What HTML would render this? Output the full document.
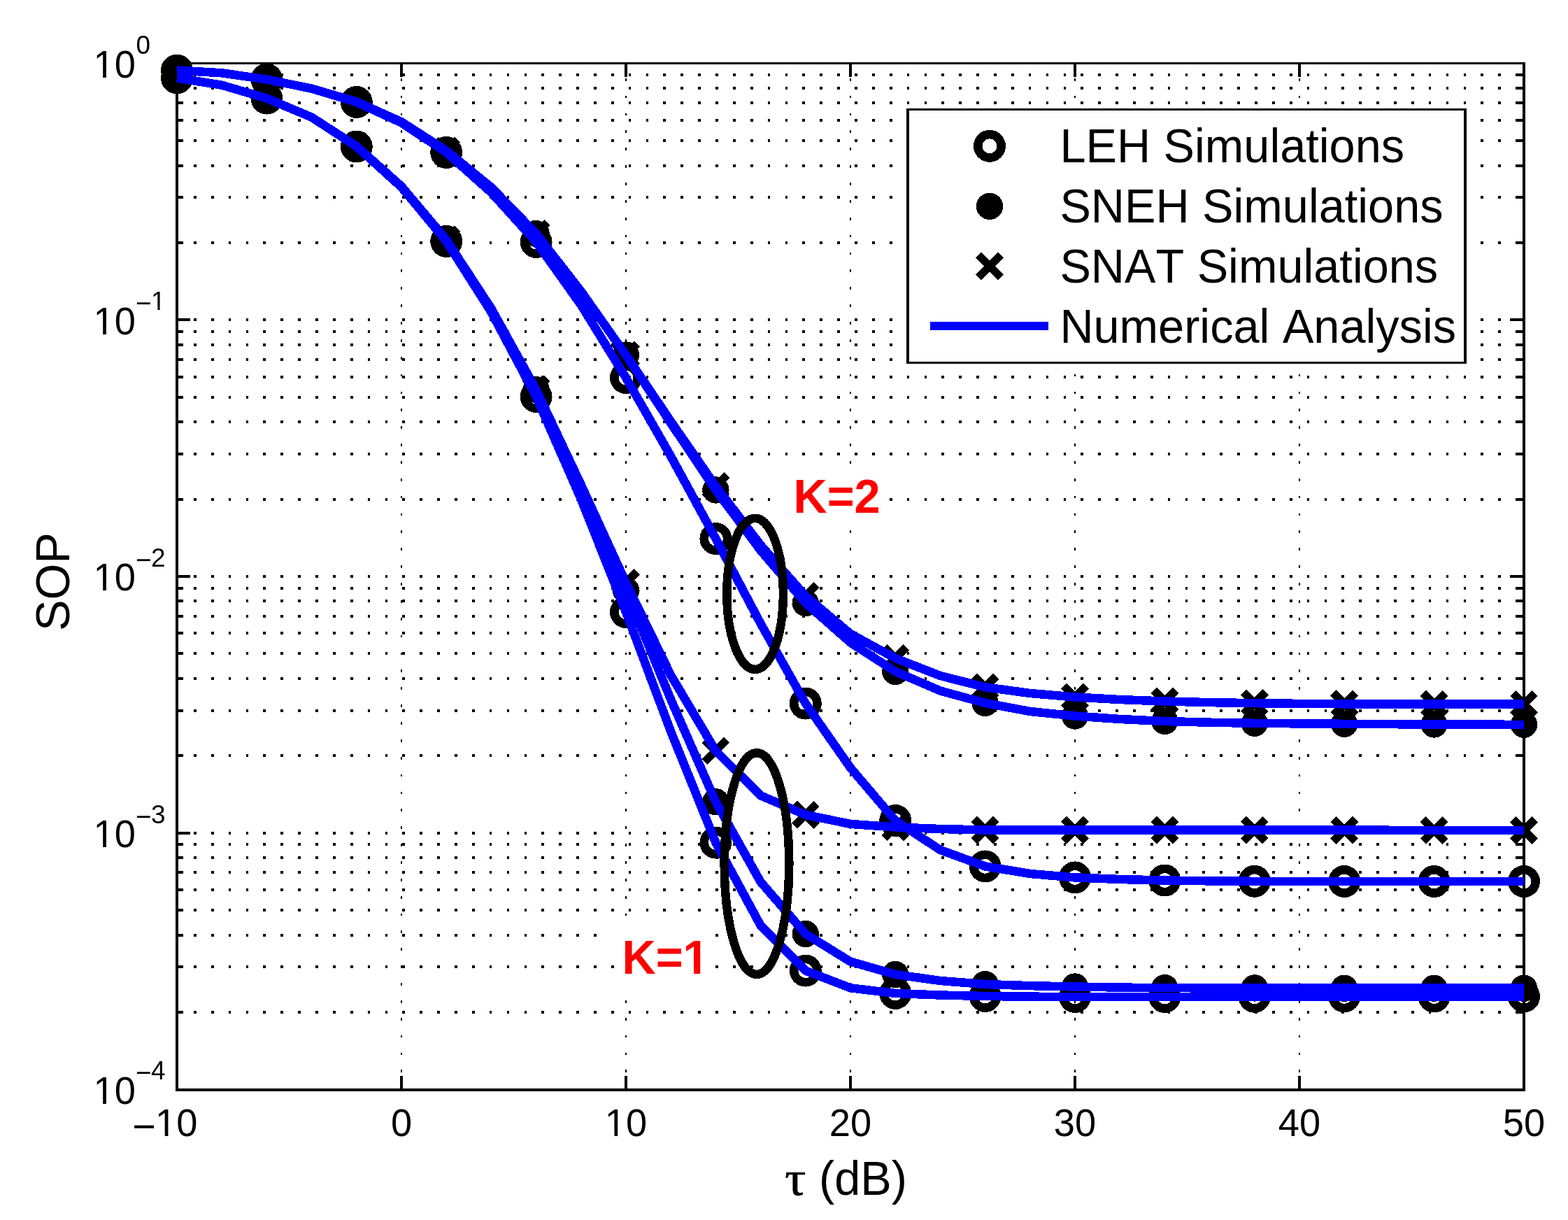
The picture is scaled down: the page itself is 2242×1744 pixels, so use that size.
<!DOCTYPE html>
<html lang="en">
<head>
<meta charset="utf-8">
<title>SOP versus &#964; (dB)</title>
<style>
html,body{margin:0;padding:0;background:#fff;}
body{width:2242px;height:1744px;overflow:hidden;}
svg{display:block;}
text{white-space:pre;font-kerning:none;}
</style>
</head>
<body>
<svg width="2242" height="1744" viewBox="0 0 2242 1744">
<rect x="0" y="0" width="2242" height="1744" fill="#fff"/>
<defs><clipPath id="ax"><rect x="252" y="90.6" width="1927" height="1467.4"/></clipPath></defs>
<path d="M277 457.27H2171M277 346.89H2171M277 282.33H2171M277 236.51H2171M277 200.98H2171M277 171.95H2171M277 147.4H2171M277 126.13H2171M277 107.38H2171M277 823.95H2171M277 713.57H2171M277 649H2171M277 603.19H2171M277 567.66H2171M277 538.62H2171M277 514.07H2171M277 492.81H2171M277 474.05H2171M277 1190.62H2171M277 1080.24H2171M277 1015.68H2171M277 969.86H2171M277 934.33H2171M277 905.3H2171M277 880.75H2171M277 859.48H2171M277 840.73H2171M277 1446.92H2171M277 1382.35H2171M277 1336.54H2171M277 1301.01H2171M277 1271.97H2171M277 1247.42H2171M277 1226.16H2171M277 1207.4H2171" stroke="#000" stroke-width="4" stroke-dasharray="3.7 21.17" fill="none" shape-rendering="crispEdges"/>
<path d="M574 111.86V1534M895 111.86V1534M1216 111.86V1534M1537 111.86V1534M1858 111.86V1534" stroke="#000" stroke-width="2" stroke-dasharray="3.75 21.12" fill="none" shape-rendering="crispEdges"/>
<g fill="#000" shape-rendering="crispEdges">
<rect x="251" y="89" width="4" height="1471"/>
<rect x="2177" y="89" width="4" height="1471"/>
<rect x="251" y="89" width="1930" height="3"/>
<rect x="251" y="1556" width="1930" height="4"/>
<rect x="572" y="1538" width="4" height="20"/>
<rect x="572" y="90" width="4" height="19.5"/>
<rect x="893" y="1538" width="4" height="20"/>
<rect x="893" y="90" width="4" height="19.5"/>
<rect x="1214" y="1538" width="4" height="20"/>
<rect x="1214" y="90" width="4" height="19.5"/>
<rect x="1535" y="1538" width="4" height="20"/>
<rect x="1535" y="90" width="4" height="19.5"/>
<rect x="1856" y="1538" width="4" height="20"/>
<rect x="1856" y="90" width="4" height="19.5"/>
<rect x="253" y="455" width="19" height="4"/>
<rect x="2159" y="455" width="19.5" height="4"/>
<rect x="253" y="345" width="9" height="4"/>
<rect x="2168.9" y="345" width="9.6" height="4"/>
<rect x="253" y="280" width="9" height="4"/>
<rect x="2168.9" y="280" width="9.6" height="4"/>
<rect x="253" y="235" width="9" height="4"/>
<rect x="2168.9" y="235" width="9.6" height="4"/>
<rect x="253" y="199" width="9" height="4"/>
<rect x="2168.9" y="199" width="9.6" height="4"/>
<rect x="253" y="170" width="9" height="4"/>
<rect x="2168.9" y="170" width="9.6" height="4"/>
<rect x="253" y="145" width="9" height="4"/>
<rect x="2168.9" y="145" width="9.6" height="4"/>
<rect x="253" y="124" width="9" height="4"/>
<rect x="2168.9" y="124" width="9.6" height="4"/>
<rect x="253" y="105" width="9" height="4"/>
<rect x="2168.9" y="105" width="9.6" height="4"/>
<rect x="253" y="822" width="19" height="4"/>
<rect x="2159" y="822" width="19.5" height="4"/>
<rect x="253" y="712" width="9" height="4"/>
<rect x="2168.9" y="712" width="9.6" height="4"/>
<rect x="253" y="647" width="9" height="4"/>
<rect x="2168.9" y="647" width="9.6" height="4"/>
<rect x="253" y="601" width="9" height="4"/>
<rect x="2168.9" y="601" width="9.6" height="4"/>
<rect x="253" y="566" width="9" height="4"/>
<rect x="2168.9" y="566" width="9.6" height="4"/>
<rect x="253" y="537" width="9" height="4"/>
<rect x="2168.9" y="537" width="9.6" height="4"/>
<rect x="253" y="512" width="9" height="4"/>
<rect x="2168.9" y="512" width="9.6" height="4"/>
<rect x="253" y="491" width="9" height="4"/>
<rect x="2168.9" y="491" width="9.6" height="4"/>
<rect x="253" y="472" width="9" height="4"/>
<rect x="2168.9" y="472" width="9.6" height="4"/>
<rect x="253" y="1189" width="19" height="4"/>
<rect x="2159" y="1189" width="19.5" height="4"/>
<rect x="253" y="1078" width="9" height="4"/>
<rect x="2168.9" y="1078" width="9.6" height="4"/>
<rect x="253" y="1014" width="9" height="4"/>
<rect x="2168.9" y="1014" width="9.6" height="4"/>
<rect x="253" y="968" width="9" height="4"/>
<rect x="2168.9" y="968" width="9.6" height="4"/>
<rect x="253" y="932" width="9" height="4"/>
<rect x="2168.9" y="932" width="9.6" height="4"/>
<rect x="253" y="903" width="9" height="4"/>
<rect x="2168.9" y="903" width="9.6" height="4"/>
<rect x="253" y="879" width="9" height="4"/>
<rect x="2168.9" y="879" width="9.6" height="4"/>
<rect x="253" y="857" width="9" height="4"/>
<rect x="2168.9" y="857" width="9.6" height="4"/>
<rect x="253" y="839" width="9" height="4"/>
<rect x="2168.9" y="839" width="9.6" height="4"/>
<rect x="253" y="1445" width="9" height="4"/>
<rect x="2168.9" y="1445" width="9.6" height="4"/>
<rect x="253" y="1380" width="9" height="4"/>
<rect x="2168.9" y="1380" width="9.6" height="4"/>
<rect x="253" y="1335" width="9" height="4"/>
<rect x="2168.9" y="1335" width="9.6" height="4"/>
<rect x="253" y="1299" width="9" height="4"/>
<rect x="2168.9" y="1299" width="9.6" height="4"/>
<rect x="253" y="1270" width="9" height="4"/>
<rect x="2168.9" y="1270" width="9.6" height="4"/>
<rect x="253" y="1245" width="9" height="4"/>
<rect x="2168.9" y="1245" width="9.6" height="4"/>
<rect x="253" y="1224" width="9" height="4"/>
<rect x="2168.9" y="1224" width="9.6" height="4"/>
<rect x="253" y="1205" width="9" height="4"/>
<rect x="2168.9" y="1205" width="9.6" height="4"/>
</g>
<g shape-rendering="crispEdges">
<circle cx="253" cy="111.5" r="16.7" fill="none" stroke="#000" stroke-width="12.5"/>
<circle cx="381.4" cy="140.6" r="16.7" fill="none" stroke="#000" stroke-width="12.5"/>
<circle cx="509.8" cy="209.5" r="16.7" fill="none" stroke="#000" stroke-width="12.5"/>
<circle cx="638.2" cy="345" r="16.7" fill="none" stroke="#000" stroke-width="12.5"/>
<circle cx="766.6" cy="567" r="16.7" fill="none" stroke="#000" stroke-width="12.5"/>
<circle cx="895" cy="875" r="16.7" fill="none" stroke="#000" stroke-width="12.5"/>
<circle cx="1023.4" cy="1204.5" r="16.7" fill="none" stroke="#000" stroke-width="12.5"/>
<circle cx="1151.8" cy="1387.6" r="16.7" fill="none" stroke="#000" stroke-width="12.5"/>
<circle cx="1280.2" cy="1420" r="16.7" fill="none" stroke="#000" stroke-width="12.5"/>
<circle cx="1408.6" cy="1424" r="16.7" fill="none" stroke="#000" stroke-width="12.5"/>
<circle cx="1537" cy="1425" r="16.7" fill="none" stroke="#000" stroke-width="12.5"/>
<circle cx="1665.4" cy="1425" r="16.7" fill="none" stroke="#000" stroke-width="12.5"/>
<circle cx="1793.8" cy="1424.8" r="16.7" fill="none" stroke="#000" stroke-width="12.5"/>
<circle cx="1922.2" cy="1424.5" r="16.7" fill="none" stroke="#000" stroke-width="12.5"/>
<circle cx="2050.6" cy="1424.5" r="16.7" fill="none" stroke="#000" stroke-width="12.5"/>
<circle cx="2179" cy="1424.5" r="16.7" fill="none" stroke="#000" stroke-width="12.5"/>
<circle cx="253" cy="100.5" r="16.7" fill="none" stroke="#000" stroke-width="12.5"/>
<circle cx="381.4" cy="113.6" r="16.7" fill="none" stroke="#000" stroke-width="12.5"/>
<circle cx="509.8" cy="146" r="16.7" fill="none" stroke="#000" stroke-width="12.5"/>
<circle cx="638.2" cy="218" r="16.7" fill="none" stroke="#000" stroke-width="12.5"/>
<circle cx="766.6" cy="346" r="16.7" fill="none" stroke="#000" stroke-width="12.5"/>
<circle cx="895" cy="540" r="16.7" fill="none" stroke="#000" stroke-width="12.5"/>
<circle cx="1023.4" cy="770" r="16.7" fill="none" stroke="#000" stroke-width="12.5"/>
<circle cx="1151.8" cy="1005.6" r="16.7" fill="none" stroke="#000" stroke-width="12.5"/>
<circle cx="1280.2" cy="1173" r="16.7" fill="none" stroke="#000" stroke-width="12.5"/>
<circle cx="1408.6" cy="1238.4" r="16.7" fill="none" stroke="#000" stroke-width="12.5"/>
<circle cx="1537" cy="1254.4" r="16.7" fill="none" stroke="#000" stroke-width="12.5"/>
<circle cx="1665.4" cy="1258.5" r="16.7" fill="none" stroke="#000" stroke-width="12.5"/>
<circle cx="1793.8" cy="1259.8" r="16.7" fill="none" stroke="#000" stroke-width="12.5"/>
<circle cx="1922.2" cy="1260" r="16.7" fill="none" stroke="#000" stroke-width="12.5"/>
<circle cx="2050.6" cy="1260" r="16.7" fill="none" stroke="#000" stroke-width="12.5"/>
<circle cx="2179" cy="1260" r="16.7" fill="none" stroke="#000" stroke-width="12.5"/>
<circle cx="253" cy="111.5" r="19.2" fill="#000"/>
<circle cx="381.4" cy="140.6" r="19.2" fill="#000"/>
<circle cx="509.8" cy="209" r="19.2" fill="#000"/>
<circle cx="638.2" cy="342.7" r="19.2" fill="#000"/>
<circle cx="766.6" cy="557" r="19.2" fill="#000"/>
<circle cx="895" cy="844" r="19.2" fill="#000"/>
<circle cx="1023.4" cy="1146.3" r="19.2" fill="#000"/>
<circle cx="1151.8" cy="1335" r="19.2" fill="#000"/>
<circle cx="1280.2" cy="1393" r="19.2" fill="#000"/>
<circle cx="1408.6" cy="1407" r="19.2" fill="#000"/>
<circle cx="1537" cy="1410.5" r="19.2" fill="#000"/>
<circle cx="1665.4" cy="1412.2" r="19.2" fill="#000"/>
<circle cx="1793.8" cy="1412.4" r="19.2" fill="#000"/>
<circle cx="1922.2" cy="1412.7" r="19.2" fill="#000"/>
<circle cx="2050.6" cy="1412.7" r="19.2" fill="#000"/>
<circle cx="2179" cy="1412.7" r="19.2" fill="#000"/>
<circle cx="253" cy="100.5" r="19.2" fill="#000"/>
<circle cx="381.4" cy="113.6" r="19.2" fill="#000"/>
<circle cx="509.8" cy="145.5" r="19.2" fill="#000"/>
<circle cx="638.2" cy="215.5" r="19.2" fill="#000"/>
<circle cx="766.6" cy="334" r="19.2" fill="#000"/>
<circle cx="895" cy="507.5" r="19.2" fill="#000"/>
<circle cx="1023.4" cy="700.5" r="19.2" fill="#000"/>
<circle cx="1151.8" cy="862" r="19.2" fill="#000"/>
<circle cx="1280.2" cy="960" r="19.2" fill="#000"/>
<circle cx="1408.6" cy="1005" r="19.2" fill="#000"/>
<circle cx="1537" cy="1023.5" r="19.2" fill="#000"/>
<circle cx="1665.4" cy="1031" r="19.2" fill="#000"/>
<circle cx="1793.8" cy="1033.8" r="19.2" fill="#000"/>
<circle cx="1922.2" cy="1034.8" r="19.2" fill="#000"/>
<circle cx="2050.6" cy="1035.5" r="19.2" fill="#000"/>
<circle cx="2179" cy="1035.8" r="19.2" fill="#000"/>
<path d="M237.2 95.7L268.8 127.3M237.2 127.3L268.8 95.7" stroke="#000" stroke-width="11.6" fill="none"/>
<path d="M365.6 124.8L397.2 156.4M365.6 156.4L397.2 124.8" stroke="#000" stroke-width="11.6" fill="none"/>
<path d="M494 193.2L525.6 224.8M494 224.8L525.6 193.2" stroke="#000" stroke-width="11.6" fill="none"/>
<path d="M622.4 326.9L654 358.5M622.4 358.5L654 326.9" stroke="#000" stroke-width="11.6" fill="none"/>
<path d="M750.8 541.2L782.4 572.8M750.8 572.8L782.4 541.2" stroke="#000" stroke-width="11.6" fill="none"/>
<path d="M879.2 817.2L910.8 848.8M879.2 848.8L910.8 817.2" stroke="#000" stroke-width="11.6" fill="none"/>
<path d="M1007.6 1057.6L1039.2 1089.2M1007.6 1089.2L1039.2 1057.6" stroke="#000" stroke-width="11.6" fill="none"/>
<path d="M1136 1149L1167.6 1180.6M1136 1180.6L1167.6 1149" stroke="#000" stroke-width="11.6" fill="none"/>
<path d="M1264.4 1166.7L1296 1198.3M1264.4 1198.3L1296 1166.7" stroke="#000" stroke-width="11.6" fill="none"/>
<path d="M1392.8 1170.7L1424.4 1202.3M1392.8 1202.3L1424.4 1170.7" stroke="#000" stroke-width="11.6" fill="none"/>
<path d="M1521.2 1170.7L1552.8 1202.3M1521.2 1202.3L1552.8 1170.7" stroke="#000" stroke-width="11.6" fill="none"/>
<path d="M1649.6 1170.72L1681.2 1202.32M1649.6 1202.32L1681.2 1170.72" stroke="#000" stroke-width="11.6" fill="none"/>
<path d="M1778 1170.79L1809.6 1202.39M1778 1202.39L1809.6 1170.79" stroke="#000" stroke-width="11.6" fill="none"/>
<path d="M1906.4 1170.89L1938 1202.49M1906.4 1202.49L1938 1170.89" stroke="#000" stroke-width="11.6" fill="none"/>
<path d="M2034.8 1171.03L2066.4 1202.63M2034.8 1202.63L2066.4 1171.03" stroke="#000" stroke-width="11.6" fill="none"/>
<path d="M2163.2 1171.2L2194.8 1202.8M2163.2 1202.8L2194.8 1171.2" stroke="#000" stroke-width="11.6" fill="none"/>
<path d="M237.2 84.7L268.8 116.3M237.2 116.3L268.8 84.7" stroke="#000" stroke-width="11.6" fill="none"/>
<path d="M365.6 97.8L397.2 129.4M365.6 129.4L397.2 97.8" stroke="#000" stroke-width="11.6" fill="none"/>
<path d="M494 129.7L525.6 161.3M494 161.3L525.6 129.7" stroke="#000" stroke-width="11.6" fill="none"/>
<path d="M622.4 199.7L654 231.3M622.4 231.3L654 199.7" stroke="#000" stroke-width="11.6" fill="none"/>
<path d="M750.8 318.2L782.4 349.8M750.8 349.8L782.4 318.2" stroke="#000" stroke-width="11.6" fill="none"/>
<path d="M879.2 491.7L910.8 523.3M879.2 523.3L910.8 491.7" stroke="#000" stroke-width="11.6" fill="none"/>
<path d="M1007.6 679.2L1039.2 710.8M1007.6 710.8L1039.2 679.2" stroke="#000" stroke-width="11.6" fill="none"/>
<path d="M1136 836.2L1167.6 867.8M1136 867.8L1167.6 836.2" stroke="#000" stroke-width="11.6" fill="none"/>
<path d="M1264.4 925.2L1296 956.8M1264.4 956.8L1296 925.2" stroke="#000" stroke-width="11.6" fill="none"/>
<path d="M1392.8 966.5L1424.4 998.1M1392.8 998.1L1424.4 966.5" stroke="#000" stroke-width="11.6" fill="none"/>
<path d="M1521.2 980.7L1552.8 1012.3M1521.2 1012.3L1552.8 980.7" stroke="#000" stroke-width="11.6" fill="none"/>
<path d="M1649.6 986.7L1681.2 1018.3M1649.6 1018.3L1681.2 986.7" stroke="#000" stroke-width="11.6" fill="none"/>
<path d="M1778 989.4L1809.6 1021M1778 1021L1809.6 989.4" stroke="#000" stroke-width="11.6" fill="none"/>
<path d="M1906.4 990.5L1938 1022.1M1906.4 1022.1L1938 990.5" stroke="#000" stroke-width="11.6" fill="none"/>
<path d="M2034.8 990.9L2066.4 1022.5M2034.8 1022.5L2066.4 990.9" stroke="#000" stroke-width="11.6" fill="none"/>
<path d="M2163.2 990.9L2194.8 1022.5M2163.2 1022.5L2194.8 990.9" stroke="#000" stroke-width="11.6" fill="none"/>
</g>
<g clip-path="url(#ax)" fill="none" stroke="#0000ff" stroke-width="12.5" stroke-linejoin="round" shape-rendering="crispEdges">
<polyline points="253,111.5 317.2,121.7 381.4,140.6 445.6,167.6 509.8,209.5 574,267.5 638.2,345 702.4,446.12 766.6,567 830.8,713.45 895,875 959.2,1045.7 1023.4,1204.5 1087.6,1323 1151.8,1387.6 1216,1412.3 1280.2,1420 1344.4,1422.5 1408.6,1424 1472.8,1424.7 1537,1425 1601.2,1425 1665.4,1425 1729.6,1424.93 1793.8,1424.8 1858,1424.62 1922.2,1424.5 1986.4,1424.5 2050.6,1424.5 2114.8,1424.5 2179,1424.5"/>
<polyline points="253,111.5 317.2,121.7 381.4,140.6 445.6,167.6 509.8,209 574,266.4 638.2,342.7 702.4,441.05 766.6,557 830.8,694.37 895,844 959.2,999.89 1023.4,1146.3 1087.6,1260.7 1151.8,1335 1216,1374.7 1280.2,1393 1344.4,1402 1408.6,1407 1472.8,1409.15 1537,1410.5 1601.2,1411.59 1665.4,1412.2 1729.6,1412.31 1793.8,1412.4 1858,1412.58 1922.2,1412.7 1986.4,1412.7 2050.6,1412.7 2114.8,1412.7 2179,1412.7"/>
<polyline points="253,111.5 317.2,121.7 381.4,140.6 445.6,167.6 509.8,209 574,266.4 638.2,342.7 702.4,441.57 766.6,557 830.8,693.04 895,833 959.2,965.17 1023.4,1073.4 1087.6,1137.2 1151.8,1164.8 1216,1177.9 1280.2,1182.5 1344.4,1185 1408.6,1186.5 1472.8,1186.5 1537,1186.5 1601.2,1186.51 1665.4,1186.52 1729.6,1186.55 1793.8,1186.59 1858,1186.64 1922.2,1186.69 1986.4,1186.76 2050.6,1186.83 2114.8,1186.91 2179,1187"/>
<polyline points="253,100.5 317.2,104.3 381.4,113.6 445.6,126.6 509.8,146 574,175.5 638.2,218 702.4,275.21 766.6,346 830.8,435.97 895,540 959.2,652.21 1023.4,770 1087.6,891.42 1151.8,1005.6 1216,1097.6 1280.2,1173 1344.4,1215 1408.6,1238.4 1472.8,1249 1537,1254.4 1601.2,1256.99 1665.4,1258.5 1729.6,1259.35 1793.8,1259.8 1858,1259.94 1922.2,1260 1986.4,1260 2050.6,1260 2114.8,1260 2179,1260"/>
<polyline points="253,100.5 317.2,104.3 381.4,113.6 445.6,126.6 509.8,145.5 574,174.2 638.2,215.5 702.4,267.8 766.6,334 830.8,416.41 895,507.5 959.2,604.86 1023.4,700.5 1087.6,786.93 1151.8,862 1216,918.5 1280.2,960 1344.4,987.5 1408.6,1005 1472.8,1017 1537,1023.5 1601.2,1027.97 1665.4,1031 1729.6,1032.73 1793.8,1033.8 1858,1034.38 1922.2,1034.8 1986.4,1035.2 2050.6,1035.5 2114.8,1035.69 2179,1035.8"/>
<polyline points="253,100.5 317.2,104.3 381.4,113.6 445.6,126.6 509.8,145.5 574,174.2 638.2,215.5 702.4,267.8 766.6,334 830.8,416.72 895,507.5 959.2,602.42 1023.4,695 1087.6,779.19 1151.8,852 1216,906 1280.2,941 1344.4,966 1408.6,982.3 1472.8,991 1537,996.5 1601.2,1000.04 1665.4,1002.5 1729.6,1004.12 1793.8,1005.2 1858,1005.87 1922.2,1006.3 1986.4,1006.57 2050.6,1006.7 2114.8,1006.7 2179,1006.7"/>
</g>
<g shape-rendering="crispEdges"><rect x="1296" y="155" width="801" height="365" fill="#000"/><rect x="1300" y="158" width="793" height="359" fill="#fff"/></g>
<g shape-rendering="crispEdges">
<circle cx="1415" cy="208.8" r="16.7" fill="none" stroke="#000" stroke-width="12.5"/>
<circle cx="1415" cy="294.9" r="19.2" fill="#000"/>
<path d="M1399.2 364.8L1430.8 396.4M1399.2 396.4L1430.8 364.8" stroke="#000" stroke-width="11.6" fill="none"/>
<line x1="1330" y1="465.7" x2="1499.2" y2="465.7" stroke="#0000ff" stroke-width="12"/>
</g>
<text transform="translate(1515.4 231.8) scale(0.9660 1)" font-family="'Liberation Sans', sans-serif" font-size="69" font-weight="normal" fill="#000">LEH Simulations</text>
<text transform="translate(1515.4 317.85) scale(0.9660 1)" font-family="'Liberation Sans', sans-serif" font-size="69" font-weight="normal" fill="#000">SNEH Simulations</text>
<text transform="translate(1515.4 403.9) scale(0.9660 1)" font-family="'Liberation Sans', sans-serif" font-size="69" font-weight="normal" fill="#000">SNAT Simulations</text>
<text transform="translate(1515.4 489.95) scale(0.9660 1)" font-family="'Liberation Sans', sans-serif" font-size="69" font-weight="normal" fill="#000">Numerical Analysis</text>
<rect x="1117" y="669" width="145" height="84" fill="#fff"/>
<rect x="870" y="1328" width="141" height="84" fill="#fff"/>
<rect x="874" y="1380" width="4" height="4" fill="#000" shape-rendering="crispEdges"/>
<text transform="translate(1134.5 732.8) scale(0.9660 1)" font-family="'Liberation Sans', sans-serif" font-size="69" font-weight="bold" fill="#ff0000">K=2</text>
<text transform="translate(889.5 1392) scale(0.9660 1)" font-family="'Liberation Sans', sans-serif" font-size="69" font-weight="bold" fill="#ff0000">K=1</text><rect x="979.26" y="1382.96" width="12.86" height="10.54" fill="#fff"/><rect x="1001.26" y="1382.96" width="12.01" height="10.54" fill="#fff"/>
<ellipse cx="1079.6" cy="848.9" rx="40.3" ry="108" fill="none" stroke="#000" stroke-width="12.5" shape-rendering="crispEdges"/>
<ellipse cx="1082" cy="1234.6" rx="46.3" ry="158.4" fill="none" stroke="#000" stroke-width="12.5" shape-rendering="crispEdges"/>
<text transform="translate(190.37 1624.4) scale(0.9850 1)" font-family="'Liberation Sans', sans-serif" font-size="55.1" font-weight="normal" fill="#000"><tspan dx="-1.27" dy="5.34" font-size="58.41">−</tspan><tspan dx="-0.66" dy="-5.34">1</tspan>0</text><rect x="224.7" y="1618.28" width="11.01" height="7.62" fill="#fff"/><rect x="240.51" y="1618.28" width="10.59" height="7.62" fill="#fff"/>
<text transform="translate(558.91 1624.4) scale(0.9850 1)" font-family="'Liberation Sans', sans-serif" font-size="55.1" font-weight="normal" fill="#000">0</text>
<text transform="translate(864.82 1624.4) scale(0.9850 1)" font-family="'Liberation Sans', sans-serif" font-size="55.1" font-weight="normal" fill="#000">10</text><rect x="867.45" y="1618.28" width="11.01" height="7.62" fill="#fff"/><rect x="883.26" y="1618.28" width="10.59" height="7.62" fill="#fff"/>
<text transform="translate(1185.82 1624.4) scale(0.9850 1)" font-family="'Liberation Sans', sans-serif" font-size="55.1" font-weight="normal" fill="#000">20</text>
<text transform="translate(1506.82 1624.4) scale(0.9850 1)" font-family="'Liberation Sans', sans-serif" font-size="55.1" font-weight="normal" fill="#000">30</text>
<text transform="translate(1827.82 1624.4) scale(0.9850 1)" font-family="'Liberation Sans', sans-serif" font-size="55.1" font-weight="normal" fill="#000">40</text>
<text transform="translate(2148.82 1624.4) scale(0.9850 1)" font-family="'Liberation Sans', sans-serif" font-size="55.1" font-weight="normal" fill="#000">50</text>
<text transform="translate(133.5 110.9) scale(0.9850 1)" font-family="'Liberation Sans', sans-serif" font-size="55.1" fill="#000">10<tspan dx="0.64" dy="-34.3" font-size="37.5">0</tspan></text><rect x="136.13" y="104.78" width="11.01" height="7.62" fill="#fff"/><rect x="151.94" y="104.78" width="10.59" height="7.62" fill="#fff"/>
<text transform="translate(133.5 477.57) scale(0.9850 1)" font-family="'Liberation Sans', sans-serif" font-size="55.1" fill="#000">10<tspan dx="0.09" dy="-30.19" font-size="39.38">−</tspan><tspan dx="-0.55" dy="-4.11" font-size="37.5">1</tspan></text><rect x="136.13" y="471.46" width="11.01" height="7.62" fill="#fff"/><rect x="151.94" y="471.46" width="10.59" height="7.62" fill="#fff"/><rect x="217.38" y="438.47" width="7.97" height="6.3" fill="#fff"/><rect x="228.62" y="438.47" width="7.69" height="6.3" fill="#fff"/>
<text transform="translate(133.5 844.25) scale(0.9850 1)" font-family="'Liberation Sans', sans-serif" font-size="55.1" fill="#000">10<tspan dx="0.09" dy="-30.19" font-size="39.38">−</tspan><tspan dx="-0.55" dy="-4.11" font-size="37.5">2</tspan></text><rect x="136.13" y="838.13" width="11.01" height="7.62" fill="#fff"/><rect x="151.94" y="838.13" width="10.59" height="7.62" fill="#fff"/>
<text transform="translate(133.5 1210.92) scale(0.9850 1)" font-family="'Liberation Sans', sans-serif" font-size="55.1" fill="#000">10<tspan dx="0.09" dy="-30.19" font-size="39.38">−</tspan><tspan dx="-0.55" dy="-4.11" font-size="37.5">3</tspan></text><rect x="136.13" y="1204.81" width="11.01" height="7.62" fill="#fff"/><rect x="151.94" y="1204.81" width="10.59" height="7.62" fill="#fff"/>
<text transform="translate(133.5 1577.6) scale(0.9850 1)" font-family="'Liberation Sans', sans-serif" font-size="55.1" fill="#000">10<tspan dx="0.09" dy="-30.19" font-size="39.38">−</tspan><tspan dx="-0.55" dy="-4.11" font-size="37.5">4</tspan></text><rect x="136.13" y="1571.48" width="11.01" height="7.62" fill="#fff"/><rect x="151.94" y="1571.48" width="10.59" height="7.62" fill="#fff"/>
<text transform="translate(99.2 831.6) rotate(-90) scale(0.9660 1)" font-family="'Liberation Sans', sans-serif" font-size="69" font-weight="normal" fill="#000" text-anchor="middle">SOP</text>
<text y="1708" font-family="'Liberation Sans', sans-serif" font-size="69" fill="#000"><tspan x="1122.3" y="1708.2" font-family="'Liberation Serif', serif" font-size="70" textLength="30.1" lengthAdjust="spacingAndGlyphs" stroke="#000" stroke-width="0.7" stroke-linejoin="round">τ</tspan><tspan font-size="20"> </tspan><tspan x="1171" y="1708" textLength="125.92" lengthAdjust="spacingAndGlyphs">(dB)</tspan></text>
</svg>
</body>
</html>
